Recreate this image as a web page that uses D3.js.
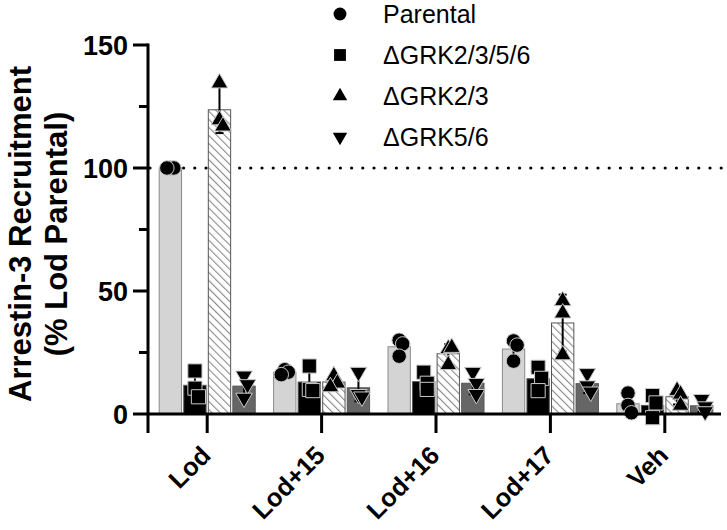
<!DOCTYPE html>
<html><head><meta charset="utf-8">
<script src="https://cdn.jsdelivr.net/npm/d3@7"></script>
<style>body{margin:0;background:#fff}svg{display:block}</style>
</head><body><svg id="c" width="727" height="530"></svg>
<script>
const categories = ["Lod","Lod+15","Lod+16","Lod+17","Veh"];
const seriesNames = ["Parental","\u0394GRK2/3/5/6","\u0394GRK2/3","\u0394GRK5/6"];
// replicate values per category, per series
const parental   = [[100,100,100],[18,17,16],[30,28.5,23.5],[29.7,28,21.5],[8.5,3.5,0.5]];
const grk2356    = [[17.5,10.5,7],[19.5,10,9.5],[17,12.5,10],[19,14.5,9.5],[7.5,4.5,-1.5]];
const grk23      = [[134.5,119.5,117],[15.5,12.5,11],[26.5,27,20],[46,41,24],[9.5,8,3.5]];
const grk56      = [[15.5,12,6.5],[17,8,7],[17,12.5,8],[16.5,11.5,9],[6,3,1]];
const yTicks = [0,50,100,150];
const yMinor = [25,75,125];
const refLine = 100;

const series = [parental, grk2356, grk23, grk56];
const svg = d3.select("#c");
const FONT = "Liberation Sans, Arial, sans-serif";

const x0 = d3.scaleBand().domain(categories).range([150, 722]);
const x1 = d3.scaleBand().domain(d3.range(4)).range([-48, 48]).paddingInner(0.09);
const y = d3.scaleLinear().domain([0,150]).range([414, 45]);

const defs = svg.append("defs");
const pat = defs.append("pattern").attr("id","hatch").attr("patternUnits","userSpaceOnUse")
  .attr("width",5.7).attr("height",5.7).attr("patternTransform","rotate(-45)");
pat.append("rect").attr("width",5.7).attr("height",5.7).attr("fill","#fff");
pat.append("line").attr("x1",0).attr("y1",0).attr("x2",0).attr("y2",5.7)
  .attr("stroke","#8a8a8a").attr("stroke-width",2.2);

const fills = ["#d4d4d4","#000","url(#hatch)","#666"];
const strokes = ["#8a8a8a","#555","#555","#555"];
const symbols = [d3.symbolCircle, d3.symbolSquare, d3.symbolTriangle, d3.symbolTriangle];
const symSize = [165, 200, 120, 120];
const symRot = [0,0,0,180];

// reference dotted line (behind bars)
svg.append("line").attr("x1",150).attr("x2",722).attr("y1",y(refLine)).attr("y2",y(refLine))
  .attr("stroke","#000").attr("stroke-width",3.2).attr("stroke-linecap","round")
  .attr("stroke-dasharray","0 11.2");

const g = svg.append("g");
categories.forEach((cat, ci) => {
  const cx = x0(cat) + x0.bandwidth()/2;
  series.forEach((s, si) => {
    const vals = s[ci];
    const m = d3.mean(vals), sd = d3.deviation(vals);
    const bx = cx + x1(si);
    const bw = x1.bandwidth();
    const top = y(Math.max(m,0)), base = y(0);
    g.append("rect").attr("x",bx).attr("y",Math.min(top,base)).attr("width",bw)
      .attr("height",Math.abs(base-top)).attr("fill",fills[si]).attr("stroke",strokes[si]).attr("stroke-width",1);
    const mx = bx + bw/2;
    g.append("line").attr("x1",mx).attr("x2",mx).attr("y1",y(m-sd)).attr("y2",y(m+sd))
      .attr("stroke","#000").attr("stroke-width",2);
    [m-sd, m+sd].forEach(v => g.append("line").attr("x1",mx-4).attr("x2",mx+4).attr("y1",y(v)).attr("y2",y(v))
      .attr("stroke","#000").attr("stroke-width",2));
    const placed = [];
    vals.forEach(v => {
      const py = y(v);
      const n = placed.filter(p => Math.abs(p - py) < 12).length;
      const dx = n === 0 ? 0 : (n % 2 ? 1 : -1) * Math.ceil(n/2) * 3.5;
      placed.push(py);
      g.append("path").attr("d", d3.symbol(symbols[si], symSize[si])())
        .attr("transform",`translate(${mx+dx},${py}) rotate(${symRot[si]})`)
        .attr("fill","#000").attr("stroke","#c8c8c8").attr("stroke-width",1);
    });
  });
});

// axes
const yAxis = svg.append("g").attr("transform","translate(148,0)");
yAxis.append("line").attr("x1",0).attr("x2",0).attr("y1",y(150)-1.5).attr("y2",y(0)).attr("stroke","#000").attr("stroke-width",3);
yAxis.selectAll(".maj").data(yTicks).join("line").attr("x1",-15).attr("x2",0).attr("y1",d=>y(d)).attr("y2",d=>y(d))
  .attr("stroke","#000").attr("stroke-width",3);
yAxis.selectAll(".min").data(yMinor).join("line").attr("class","min").attr("x1",-9).attr("x2",0).attr("y1",d=>y(d)).attr("y2",d=>y(d))
  .attr("stroke","#000").attr("stroke-width",3);
yAxis.selectAll("text").data(yTicks).join("text").attr("x",-20).attr("y",d=>y(d)).attr("dy","0.36em")
  .attr("text-anchor","end").attr("font-family",FONT).attr("font-weight","bold").attr("font-size",27).text(d=>d);

const xAxis = svg.append("g");
xAxis.append("line").attr("x1",146.5).attr("x2",721).attr("y1",414).attr("y2",414).attr("stroke","#000").attr("stroke-width",3);
const tickXs = [148].concat(categories.map(c => x0(c)+x0.bandwidth()/2));
xAxis.selectAll(".xt").data(tickXs).join("line").attr("class","xt").attr("x1",d=>d).attr("x2",d=>d).attr("y1",414).attr("y2",433)
  .attr("stroke","#000").attr("stroke-width",3);
xAxis.selectAll("text").data(categories).join("text")
  .attr("transform", d => `translate(${x0(d)+x0.bandwidth()/2+5},${457}) rotate(-45)`)
  .attr("text-anchor","end").attr("font-family",FONT).attr("font-weight","bold").attr("font-size",25.5).text(d=>d);

// y title
const yt = svg.append("text").attr("transform","translate(31,234) rotate(-90)")
  .attr("text-anchor","middle").attr("font-family",FONT).attr("font-weight","bold").attr("font-size",31);
yt.append("tspan").attr("x",0).attr("y",0).text("Arrestin-3 Recruitment");
yt.append("tspan").attr("x",0).attr("y",36).text("(% Lod Parental)");

// legend
const lg = svg.append("g");
const legSize = [130, 140, 90, 90];
seriesNames.forEach((name, i) => {
  const ly = 14 + i*41;
  lg.append("path").attr("d", d3.symbol(symbols[i], legSize[i])()).attr("transform",`translate(340,${ly}) rotate(${symRot[i]})`).attr("fill","#000");
  lg.append("text").attr("x",383).attr("y",ly).attr("dy","0.36em").attr("font-family",FONT).attr("font-size",25).text(name);
});
</script></body></html>
